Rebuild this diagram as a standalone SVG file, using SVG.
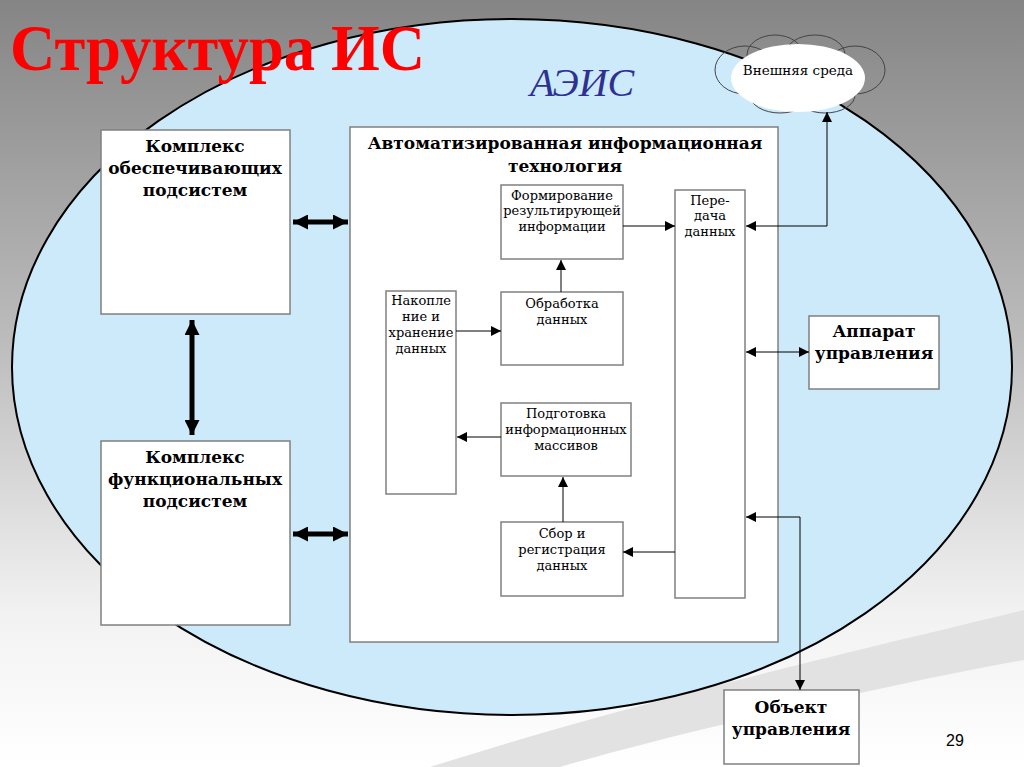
<svg xmlns="http://www.w3.org/2000/svg" width="1024" height="767" viewBox="0 0 1024 767">
<defs>
<linearGradient id="bg" x1="0" y1="0" x2="0" y2="1">
<stop offset="0" stop-color="#858585"/>
<stop offset="0.45" stop-color="#bdbdbd"/>
<stop offset="0.8" stop-color="#f2f2f2"/>
<stop offset="1" stop-color="#ffffff"/>
</linearGradient>
<marker id="ah" viewBox="0 0 10 10" refX="10" refY="5" markerWidth="10" markerHeight="10" markerUnits="userSpaceOnUse" orient="auto-start-reverse">
<path d="M0,0 L10,5 L0,10 z" fill="#000"/>
</marker>
<marker id="ahb" viewBox="0 0 10 10" refX="10" refY="5" markerWidth="3" markerHeight="3" orient="auto-start-reverse">
<path d="M0,0 L10,5 L0,10 z" fill="#000"/>
</marker>
<style>
.box{fill:#fff;stroke:#808080;stroke-width:1.5}
.serif{font-family:"DejaVu Serif","Liberation Serif",serif}
.bt{font-family:"DejaVu Serif","Liberation Serif",serif;font-weight:bold;font-size:17px;fill:#000;text-anchor:middle}
.st{font-family:"DejaVu Serif","Liberation Serif",serif;font-size:13px;fill:#000;text-anchor:middle}
.thin{stroke:#000;stroke-width:1;fill:none}
.thick{stroke:#000;stroke-width:5;fill:none}
</style>
</defs>
<rect width="1024" height="767" fill="url(#bg)"/>
<path d="M430,767 C640,700 860,650 1024,610 L1024,660 C860,690 650,740 560,767 z" fill="#e2e2e2"/>
<ellipse cx="512" cy="367" rx="500" ry="348" fill="#cdeafb" stroke="#000" stroke-width="2"/>
<text x="10" y="70" font-family="Liberation Serif,serif" font-size="66" font-weight="bold" fill="#ff0000" textLength="415" lengthAdjust="spacingAndGlyphs">Структура ИС</text>
<text x="530" y="96" font-family="Liberation Serif,serif" font-size="40" font-style="italic" fill="#2e3192">АЭИС</text>

<g id="cloud">
<g fill="none" stroke="#444" stroke-width="1">
<ellipse cx="745" cy="70" rx="30" ry="24"/>
<ellipse cx="775" cy="55" rx="28" ry="20"/>
<ellipse cx="815" cy="55" rx="30" ry="20"/>
<ellipse cx="855" cy="70" rx="30" ry="24"/>
<ellipse cx="780" cy="95" rx="30" ry="18"/>
<ellipse cx="825" cy="95" rx="30" ry="18"/>
</g>
<ellipse cx="798" cy="78" rx="67" ry="34" fill="#fff"/>
<text class="serif" x="798" y="75" font-size="13.5" text-anchor="middle">Внешняя среда</text>
</g>

<g id="obesp"><rect class="box" x="101" y="130" width="189" height="184"/>
<text class="bt" x="195" y="152">Комплекс</text><text class="bt" x="195" y="174">обеспечивающих</text><text class="bt" x="195" y="196">подсистем</text></g>
<g id="func"><rect class="box" x="101" y="441" width="189" height="184"/>
<text class="bt" x="195" y="463">Комплекс</text><text class="bt" x="195" y="485">функциональных</text><text class="bt" x="195" y="507">подсистем</text></g>
<g id="ait"><rect class="box" x="350" y="127" width="428" height="515"/>
<text class="bt" x="565" y="149">Автоматизированная информационная</text><text class="bt" x="565" y="172">технология</text></g>
<g id="form"><rect class="box" x="501" y="185" width="122" height="74"/>
<text class="st" x="562" y="200">Формирование</text><text class="st" x="562" y="215">результирующей</text><text class="st" x="562" y="231">информации</text></g>
<g id="pered"><rect class="box" x="675" y="190" width="70" height="408"/>
<text class="st" x="710" y="205">Пере-</text><text class="st" x="710" y="220">дача</text><text class="st" x="710" y="236">данных</text></g>
<g id="nakop"><rect class="box" x="386" y="291" width="70" height="203"/>
<text class="st" x="421" y="305">Накопле</text><text class="st" x="421" y="321">ние и</text><text class="st" x="421" y="337">хранение</text><text class="st" x="421" y="353">данных</text></g>
<g id="obrab"><rect class="box" x="501" y="292" width="122" height="73"/>
<text class="st" x="562" y="308">Обработка</text><text class="st" x="562" y="324">данных</text></g>
<g id="podg"><rect class="box" x="501" y="403" width="130" height="73"/>
<text class="st" x="566" y="418">Подготовка</text><text class="st" x="566" y="434">информационных</text><text class="st" x="566" y="450">массивов</text></g>
<g id="sbor"><rect class="box" x="501" y="522" width="122" height="74"/>
<text class="st" x="562" y="538">Сбор и</text><text class="st" x="562" y="554">регистрация</text><text class="st" x="562" y="570">данных</text></g>
<g id="apparat"><rect class="box" x="809" y="316" width="130" height="73"/>
<text class="bt" x="874" y="337">Аппарат</text><text class="bt" x="874" y="359">управления</text></g>
<g id="obekt"><rect class="box" x="724" y="690" width="135" height="74"/>
<text class="bt" x="791" y="713">Объект</text><text class="bt" x="791" y="735">управления</text></g>

<g id="connectors">
<line class="thick" x1="293" y1="222" x2="348" y2="222" marker-start="url(#ahb)" marker-end="url(#ahb)"/>
<line class="thick" x1="192" y1="320" x2="192" y2="435" marker-start="url(#ahb)" marker-end="url(#ahb)"/>
<line class="thick" x1="293" y1="534" x2="348" y2="534" marker-start="url(#ahb)" marker-end="url(#ahb)"/>
<line class="thin" x1="623" y1="226" x2="675" y2="226" marker-end="url(#ah)"/>
<line class="thin" x1="561" y1="292" x2="561" y2="260" marker-end="url(#ah)"/>
<line class="thin" x1="456" y1="331" x2="501" y2="331" marker-end="url(#ah)"/>
<line class="thin" x1="501" y1="437" x2="457" y2="437" marker-end="url(#ah)"/>
<line class="thin" x1="563" y1="522" x2="563" y2="477" marker-end="url(#ah)"/>
<line class="thin" x1="675" y1="552" x2="623" y2="552" marker-end="url(#ah)"/>
<polyline class="thin" points="746,226 827,226 827,112" marker-start="url(#ah)" marker-end="url(#ah)"/>
<line class="thin" x1="746" y1="352" x2="809" y2="352" marker-start="url(#ah)" marker-end="url(#ah)"/>
<polyline class="thin" points="746,517 800,517 800,690" marker-start="url(#ah)" marker-end="url(#ah)"/>
</g>
<text x="955" y="746" font-family="Liberation Sans,sans-serif" font-size="16" text-anchor="middle">29</text>
</svg>
